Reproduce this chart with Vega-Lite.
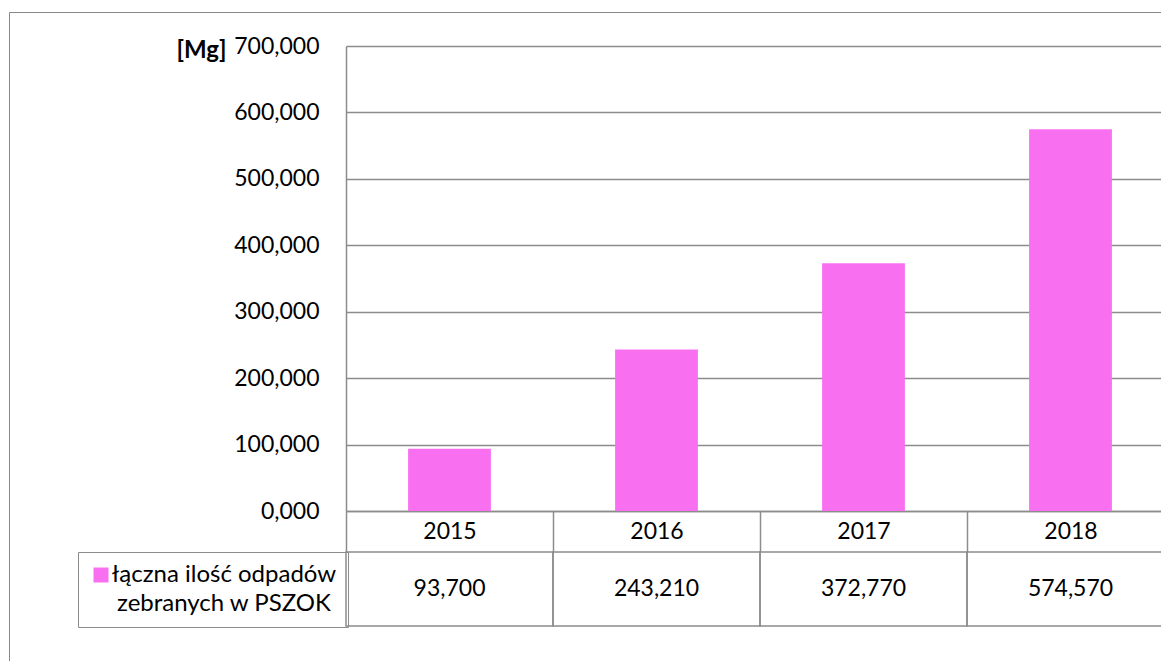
{
  "$schema": "https://vega.github.io/schema/vega-lite/v6.json",
  "width": 1200,
  "height": 700,
  "autosize": {"type": "none"},
  "padding": {"left": 9, "top": 12, "right": 0, "bottom": 0},
  "background": "white",
  "data": {
    "values": [
      {"rok": "2015", "seria": "łączna ilość odpadów zebranych w PSZOK", "ilosc": 93.7},
      {"rok": "2016", "seria": "łączna ilość odpadów zebranych w PSZOK", "ilosc": 243.21},
      {"rok": "2017", "seria": "łączna ilość odpadów zebranych w PSZOK", "ilosc": 372.77},
      {"rok": "2018", "seria": "łączna ilość odpadów zebranych w PSZOK", "ilosc": 574.57}
    ]
  },
  "layer": [
    {
      "mark": {"type": "bar", "width": {"band": 0.4}},
      "encoding": {
        "x": {
          "field": "rok", "type": "ordinal",
          "scale": {"range": [337, 1165], "paddingInner": 0, "paddingOuter": 0},
          "axis": {
            "orient": "bottom", "offset": -201, "title": null,
            "domainColor": "#8c8c8c", "domainWidth": 1.5,
            "tickBand": "extent", "tickSize": 41, "tickColor": "#8c8c8c", "tickWidth": 1.5,
            "labelPadding": -20.5, "labelBaseline": "middle", "labelAngle": 0,
            "labelFontSize": 23, "labelColor": "#000000", "labelFont": "Lato",
            "grid": false
          }
        },
        "y": {
          "field": "ilosc", "type": "quantitative",
          "scale": {"domain": [0, 700], "range": [499, 34], "nice": false},
          "axis": {
            "orient": "left", "offset": -337,
            "values": [0, 100, 200, 300, 400, 500, 600, 700],
            "format": ".3f", "ticks": false, "tickSize": 0, "labelPadding": 27,
            "labelFontSize": 23, "labelColor": "#000000", "labelFont": "Lato", "labelBaseline": "middle",
            "domainColor": "#8c8c8c", "domainWidth": 1.5,
            "grid": true, "gridColor": "#8c8c8c", "gridWidth": 1.5,
            "title": "[Mg]", "titleAngle": 0, "titleFontWeight": "bold", "titleFontSize": 24,
            "titleFont": "Lato", "titleColor": "#000000",
            "titleX": -120, "titleY": 45, "titleAlign": "right", "titleBaseline": "alphabetic"
          }
        },
        "color": {
          "field": "seria", "type": "nominal",
          "scale": {"range": ["#f870f0"]},
          "legend": {
            "orient": "none", "legendX": 69, "legendY": 540, "title": null,
            "strokeColor": "#8c8c8c", "padding": 11,
            "symbolType": "square", "symbolSize": 225, "symbolStrokeWidth": 0,
            "labelFont": "Lato", "labelFontSize": 24, "labelColor": "#000000", "labelLimit": 400,
            "labelAlign": "center", "labelOffset": 111,
            "labelExpr": "[slice(datum.label, 0, 20), slice(datum.label, 21)]",
            "encode": {"labels": {"update": {"lineHeight": {"value": 29}}}}
          }
        }
      }
    },
    {
      "encoding": {
        "x": {"field": "rok", "type": "ordinal"},
        "y": {
          "field": "seria", "type": "nominal",
          "scale": {"range": [540, 614], "paddingInner": 0, "paddingOuter": 0},
          "axis": null
        }
      },
      "layer": [
        {"mark": {"type": "rect", "filled": false, "color": "#8c8c8c", "strokeWidth": 1.5}},
        {
          "mark": {"type": "text", "font": "Lato", "fontSize": 23, "color": "#000000"},
          "encoding": {"text": {"field": "ilosc", "type": "quantitative", "format": ".3f"}}
        }
      ]
    }
  ],
  "resolve": {"scale": {"y": "independent"}, "axis": {"y": "independent"}},
  "config": {
    "font": "Lato",
    "locale": {"number": {"decimal": ",", "thousands": " ", "grouping": [3], "currency": ["", " zł"]}},
    "view": {"stroke": "#888888", "strokeWidth": 1}
  }
}
